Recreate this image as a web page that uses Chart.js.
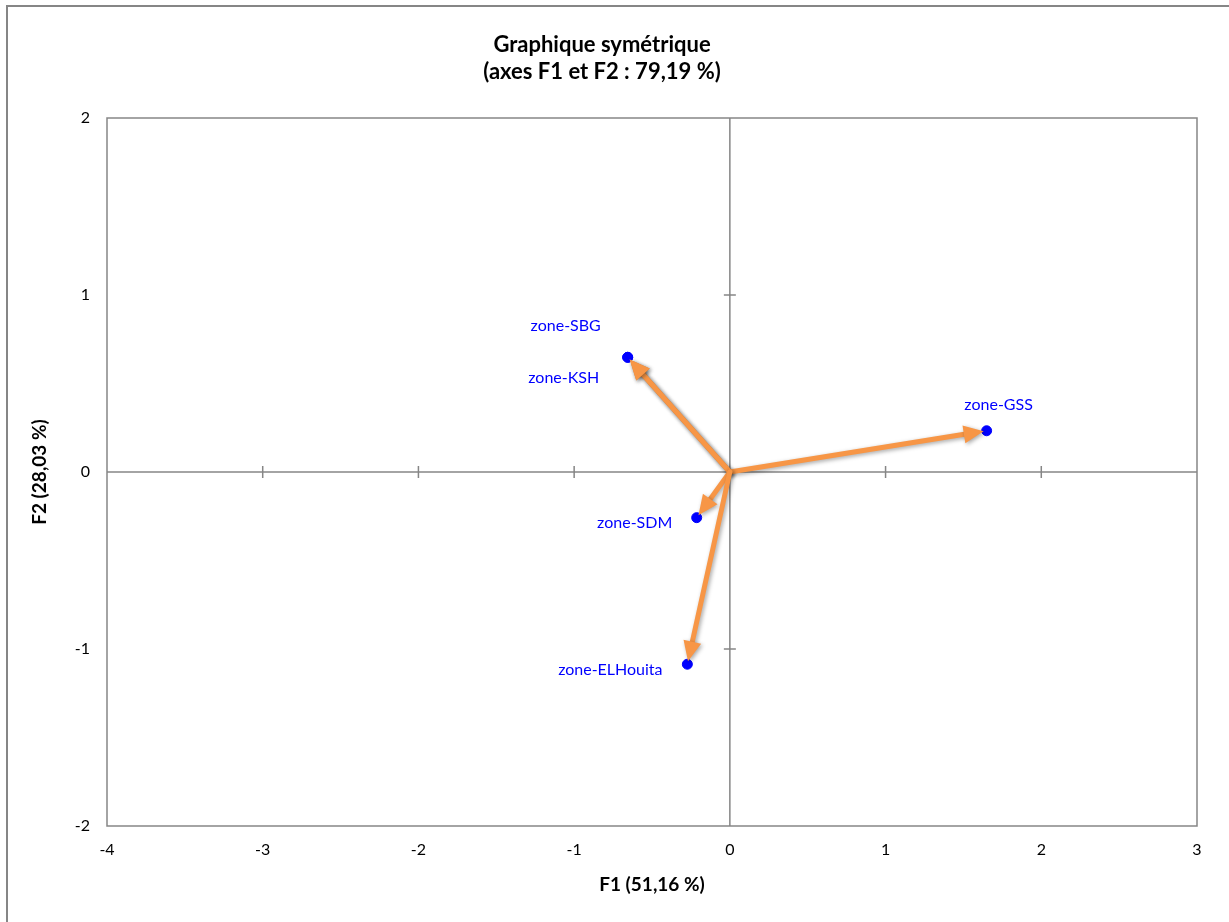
<!DOCTYPE html>
<html>
<head>
<meta charset="utf-8">
<script src="https://cdn.jsdelivr.net/npm/chart.js@4.4.1/dist/chart.umd.min.js"></script>
<style>
  html, body { margin: 0; padding: 0; background: #fff; }
  #wrap { width: 1229px; height: 922px; }
</style>
</head>
<body>
<div id="wrap"><canvas id="chart"></canvas></div>
<script>
// Data
const zones = ['zone-SBG', 'zone-KSH', 'zone-GSS', 'zone-SDM', 'zone-ELHouita'];
const f1 = [-0.656, -0.656, 1.649, -0.213, -0.273];
const f2 = [0.648, 0.648, 0.233, -0.258, -1.086];
const xTicks = [-4, -3, -2, -1, 0, 1, 2, 3];
const yTicks = [-2, -1, 0, 1, 2];

const FONT = 'Lato, "Open Sans", sans-serif';
const GREY = '#868686';
const ORANGE = '#F79646';

// label offsets (pixels from point centre) like Excel placed them
const labelOffsets = [[-62, -31], [-64, 21], [12, -26], [-62, 5], [-77, 6]];

const points = zones.map((z, i) => ({ x: f1[i], y: f2[i] }));

// frame, zero axes with cross ticks, arrows and labels
const biplot = {
  id: 'biplot',
  beforeDraw(chart) {
    const { ctx, chartArea: a, scales: { x, y } } = chart;
    ctx.save();
    // outer chart frame (left + top only visible)
    ctx.strokeStyle = GREY;
    ctx.lineWidth = 2;
    ctx.beginPath();
    ctx.moveTo(7, 922);
    ctx.lineTo(7, 6);
    ctx.lineTo(1229, 6);
    ctx.stroke();
    // plot frame
    ctx.lineWidth = 1.5;
    ctx.strokeRect(a.left, a.top, a.right - a.left, a.bottom - a.top);
    // zero lines
    const x0 = x.getPixelForValue(0), y0 = y.getPixelForValue(0);
    ctx.beginPath();
    ctx.moveTo(a.left, y0); ctx.lineTo(a.right, y0);
    ctx.moveTo(x0, a.top); ctx.lineTo(x0, a.bottom);
    xTicks.forEach(v => {
      if (v === xTicks[0] || v === xTicks[xTicks.length - 1]) return;
      const px = x.getPixelForValue(v);
      ctx.moveTo(px, y0 - 6); ctx.lineTo(px, y0 + 6);
    });
    yTicks.forEach(v => {
      if (v === yTicks[0] || v === yTicks[yTicks.length - 1]) return;
      const py = y.getPixelForValue(v);
      ctx.moveTo(x0 - 6, py); ctx.lineTo(x0 + 6, py);
    });
    ctx.stroke();
    ctx.restore();
  },
  afterDatasetsDraw(chart) {
    const { ctx, scales: { x, y } } = chart;
    const ox = x.getPixelForValue(0), oy = y.getPixelForValue(0);
    ctx.save();
    // arrows from origin to each zone
    ctx.shadowColor = 'rgba(0,0,0,0.35)';
    ctx.shadowBlur = 4;
    ctx.shadowOffsetX = 1.5;
    ctx.shadowOffsetY = 1.5;
    ctx.strokeStyle = ORANGE;
    ctx.fillStyle = ORANGE;
    ctx.lineWidth = 5;
    ctx.lineCap = 'round';
    points.forEach(p => {
      const px = x.getPixelForValue(p.x), py = y.getPixelForValue(p.y);
      const dx = px - ox, dy = py - oy;
      const len = Math.hypot(dx, dy);
      const ux = dx / len, uy = dy / len;
      const tipX = px - ux * 3, tipY = py - uy * 3;
      const headL = 20, headW = 9;
      const bx = tipX - ux * headL, by = tipY - uy * headL;
      ctx.beginPath();
      ctx.moveTo(ox, oy);
      ctx.lineTo(bx + ux * 2, by + uy * 2);
      ctx.stroke();
      ctx.beginPath();
      ctx.moveTo(tipX, tipY);
      ctx.lineTo(bx - uy * headW, by + ux * headW);
      ctx.lineTo(bx + uy * headW, by - ux * headW);
      ctx.closePath();
      ctx.fill();
    });
    ctx.restore();
    // point labels
    ctx.save();
    ctx.font = '16px ' + FONT;
    ctx.fillStyle = '#0000FF';
    ctx.textAlign = 'center';
    ctx.textBaseline = 'middle';
    points.forEach((p, i) => {
      const px = x.getPixelForValue(p.x), py = y.getPixelForValue(p.y);
      ctx.fillText(zones[i], px + labelOffsets[i][0], py + labelOffsets[i][1]);
    });
    ctx.restore();
  }
};

new Chart(document.getElementById('chart'), {
  type: 'scatter',
  data: {
    datasets: [{
      data: points,
      backgroundColor: '#0000FF',
      borderColor: '#0000FF',
      pointRadius: 5,
      pointHoverRadius: 5
    }]
  },
  options: {
    responsive: true,
    maintainAspectRatio: false,
    animation: false,
    layout: { padding: { left: 7, right: 32, top: 0, bottom: 0 } },
    plugins: {
      legend: { display: false },
      tooltip: { enabled: false },
      title: {
        display: true,
        text: ['Graphique symétrique', '(axes F1 et F2 : 79,19 %)'],
        color: '#000',
        font: { family: FONT, size: 22, weight: 'bold', lineHeight: 1.25 },
        padding: { top: 31, bottom: 32 }
      }
    },
    scales: {
      x: {
        type: 'linear',
        min: xTicks[0],
        max: xTicks[xTicks.length - 1],
        afterBuildTicks: s => { s.ticks = xTicks.map(v => ({ value: v })); },
        afterFit: s => { s.height = 96; },
        grid: { display: false, drawTicks: false },
        border: { display: false },
        ticks: { color: '#000', font: { family: FONT, size: 16 }, padding: 14.4 },
        title: {
          display: true,
          text: 'F1 (51,16 %)',
          color: '#000',
          font: { family: FONT, size: 19, weight: 'bold' },
          padding: { top: 0, bottom: 25.6 }
        }
      },
      y: {
        type: 'linear',
        min: yTicks[0],
        max: yTicks[yTicks.length - 1],
        afterBuildTicks: s => { s.ticks = yTicks.map(v => ({ value: v })); },
        afterFit: s => { s.width = 100; },
        grid: { display: false, drawTicks: false },
        border: { display: false },
        ticks: { color: '#000', font: { family: FONT, size: 16 }, padding: 17 },
        title: {
          display: true,
          text: 'F2 (28,03 %)',
          color: '#000',
          font: { family: FONT, size: 19, weight: 'bold' },
          padding: { top: 21.6, bottom: 0 }
        }
      }
    }
  },
  plugins: [biplot]
});
</script>
</body>
</html>
